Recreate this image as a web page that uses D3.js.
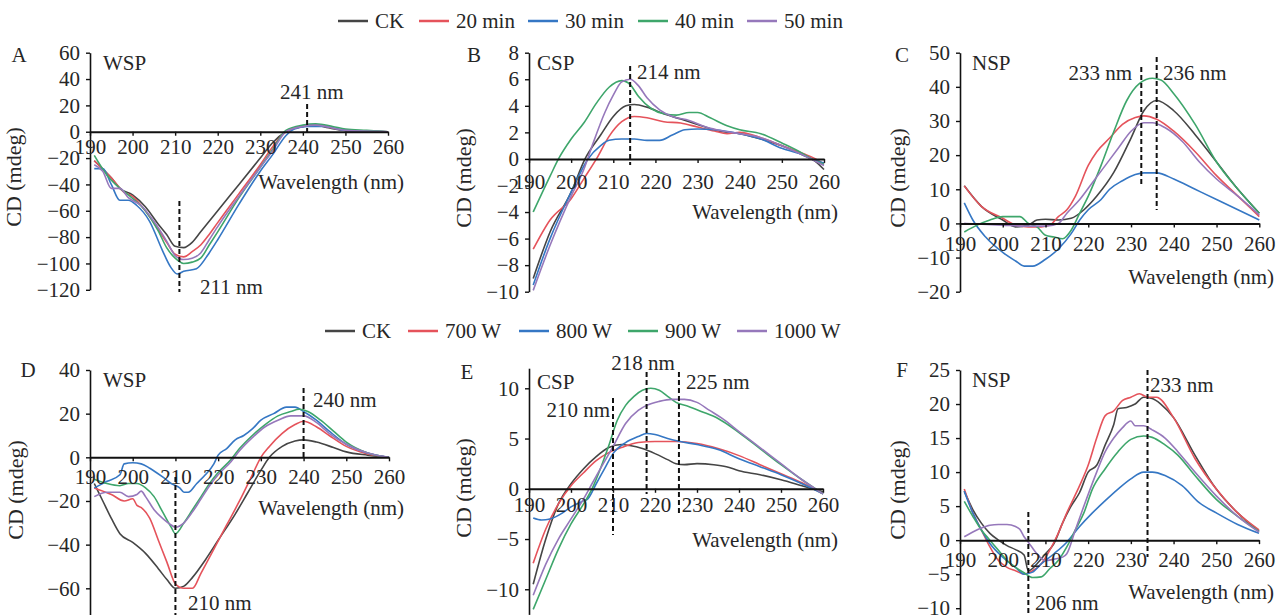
<!DOCTYPE html>
<html><head><meta charset="utf-8">
<script src="https://cdn.jsdelivr.net/npm/d3@7"></script>
<style>
body{margin:0;background:#fff}
svg{display:block}
text{font-family:"Liberation Serif","Times New Roman",serif;fill:#262626}
</style>
</head><body>
<svg id="c" width="1285" height="615"></svg>
<script>
// ---------------- DATA ----------------
const wavelengthTicks = [190,200,210,220,230,240,250,260];
const legendTop = ["CK","20 min","30 min","40 min","50 min"];
const legendBottom = ["CK","700 W","800 W","900 W","1000 W"];
const panelLetters = ["A","B","C","D","E","F"];
const panelTitles = ["WSP","CSP","NSP","WSP","CSP","NSP"];

// Panel A – WSP (time)
const aCK = [[191,-22],[195,-35],[197,-43],[200,-48],[203,-57],[206,-70],[208,-78],[210,-87],[212,-88],[214,-84],[216,-76],[220,-60],[225,-40],[230,-20],[233,-8],[236,0],[240,4],[243,5],[246,3],[250,1],[255,0.5],[260,0]];
const a20 = [[191,-22],[195,-35],[198,-46],[200,-49],[203,-60],[206,-74],[208,-84],[210,-93],[212,-95],[214,-91],[216,-86],[218,-78],[220,-69],[225,-47],[230,-25],[233,-11],[236,0],[240,4],[243,5],[250,1],[260,0]];
const a30 = [[191,-28],[193,-28],[195,-40],[197,-52],[199,-52],[201,-56],[204,-68],[207,-90],[209,-103],[210.5,-108],[212,-106],[215,-104],[218,-92],[220,-82],[225,-55],[230,-30],[233,-17],[236,-3],[238,2],[241,4],[245,4],[250,1],[260,0]];
const a40 = [[191,-18],[194,-33],[196,-40],[199,-48],[203,-60],[206,-75],[208,-88],[210,-96],[212,-100],[214,-99],[216,-96],[218,-86],[220,-76],[225,-50],[230,-27],[233,-13],[236,1],[240,5],[243,6],[247,4],[250,2],[255,1],[260,0]];
const a50 = [[191,-25],[193,-30],[195,-43],[197,-43],[199,-50],[202,-56],[205,-68],[208,-83],[210,-94],[212,-97],[214,-96],[216,-92],[218,-82],[220,-72],[225,-49],[230,-27],[233,-14],[236,0],[240,4],[243,5],[250,1],[260,0]];

// Panel B – CSP (time)
const bCK = [[191,-9],[195,-5.5],[200,-2.5],[203.3,0],[207,1.8],[210,3.2],[213,4.0],[215,4.1],[218,3.9],[222,3.4],[226,3.0],[230,2.6],[235,2.1],[240,1.9],[245,1.5],[250,1.0],[255,0.3],[258,-0.2],[260,-0.8]];
const b20 = [[191,-6.8],[195,-4.6],[200,-3.0],[203,-1.5],[206,0],[209,1.7],[212,2.8],[215,3.2],[218,3.1],[222,2.8],[226,2.7],[230,2.4],[234,2.1],[237,1.9],[240,2.0],[245,1.6],[250,1.0],[255,0.4],[258,0],[260,-0.4]];
const b30 = [[191,-9.5],[195,-6],[200,-2.5],[204,0],[207,1.0],[209,1.4],[212,1.5],[215,1.5],[218,1.4],[221,1.4],[224,1.8],[227,2.2],[230,2.25],[234,2.2],[240,1.9],[245,1.5],[250,0.8],[255,0.3],[258,-0.1],[260,-0.3]];
const b40 = [[191,-4.0],[195,-1.3],[197,0],[200,1.5],[203,2.7],[206,4.2],[209,5.4],[212,5.9],[214,5.6],[216,4.7],[219,3.8],[222,3.4],[225,3.3],[228,3.5],[230,3.5],[233,3.1],[237,2.5],[240,2.2],[245,1.9],[250,1.2],[255,0.4],[257,0],[260,-0.4]];
const b50 = [[191,-9.9],[195,-6.5],[200,-2.8],[203,-0.8],[205,1],[208,3.5],[210,4.8],[212,5.8],[214,6.0],[216,5.5],[218,4.6],[221,3.7],[224,3.2],[228,2.9],[232,2.4],[236,2.1],[240,1.9],[245,1.6],[250,1.0],[255,0.3],[260,-0.5]];

// Panel C – NSP (time)
const cCK = [[191,11],[195,5],[200,1],[203,-1],[206,-0.5],[208,1],[210,1.2],[213,1.0],[216,1.5],[219,4],[222,8],[226,15],[230,25],[233,33],[236,36],[240,33],[245,26],[250,18],[255,10],[260,3]];
const c20 = [[191,11],[195,5],[200,1.5],[203,-0.5],[206,-1],[209,-1],[211,-0.5],[213,2],[215,4],[217,8],[220,17],[222,21],[225,25],[228,29],[231,31],[233,31.5],[236,30.5],[240,27],[245,21],[250,14],[255,8],[260,2]];
const c30 = [[191,6],[193,1],[196,-4],[200,-8.5],[203,-11],[205,-12.5],[207,-12.5],[210,-10.5],[213,-7.5],[216,-3],[218,1],[220,4],[223,7],[225,10],[228,12.5],[231,14.3],[233,14.8],[236,14.8],[240,13],[245,10],[250,7],[255,4],[260,1]];
const c40 = [[191,-2.5],[194,-0.5],[197,1],[200,2],[204,2],[206,0],[208,-1],[210,-3.5],[212,-4],[214,-4.5],[216,-2],[218,3],[220,8],[223,17],[226,27],[229,36],[232,41],[235,42.5],[237,42],[240,38],[245,29],[250,18],[255,10],[260,3]];
const c50 = [[191,0],[200,-0.5],[205,-0.8],[210,-0.8],[213,0],[215,3],[218,7],[221,12],[224,17],[227,22],[230,27],[233,29.5],[235,29.5],[238,28],[242,24],[246,18],[250,13],[255,8],[260,2.5]];

// Panel D – WSP (power)
const dCK = [[191,-12],[193,-20],[195,-28],[197,-35],[200,-39],[203,-44],[206,-51],[208,-56],[210,-60],[212,-59],[214,-55],[217,-47],[220,-38],[224,-26],[227,-16],[230,-6],[232,0],[235,5],[238,7.5],[240,8],[243,7],[247,4.5],[250,2.5],[255,1],[260,0]];
const d700 = [[191,-14],[195,-17],[198,-20],[200,-19],[201,-22],[202,-23],[204,-28],[206,-38],[208,-48],[210,-58],[212,-60],[214,-60],[216,-53],[219,-42],[222,-31],[225,-20],[228,-8],[230,0],[232,5],[235,11],[238,15],[240,16.5],[243,14],[246,10],[250,5],[255,1.5],[260,0]];
const d800 = [[191,-14],[194,-11],[197,-8],[198,-3],[200,-2.5],[202,-3],[204,-5],[207,-9],[209,-12],[211,-14],[212,-16],[213,-16],[215,-12],[217,-8],[219,-3],[220,1],[222,4],[224,8],[226,10],[228,13],[230,17],[233,20],[236,23],[238,23],[240,21],[243,17],[246,12],[250,6],[255,2],[260,0]];
const d900 = [[191,-10],[194,-12],[197,-13],[199,-12],[201,-12],[203,-14],[205,-18],[207,-25],[209,-32],[210,-35],[212,-30],[214,-24],[216,-18],[218,-12],[220,-7],[223,-1],[225,4],[228,10],[231,15],[234,19],[237,21],[239,22],[241,21],[244,17],[247,12],[250,7],[255,2],[260,0]];
const d1000 = [[191,-18],[194,-16],[197,-16],[199,-18],[201,-17],[202,-15.5],[203,-18],[205,-24],[207,-28],[209,-31],[210,-32],[212,-30],[214,-25],[216,-19],[218,-13],[220,-8],[223,-2],[225,3],[228,9],[231,14],[234,17],[237,19],[240,19],[243,16],[246,11],[250,6],[255,2],[260,0]];

// Panel E – CSP (power)
const eCK = [[191,-9.5],[194,-5],[197,-1.5],[200,0.5],[203,2],[206,3.2],[209,4.1],[212,4.4],[214,4.3],[217,4],[220,3.5],[223,2.9],[225,2.5],[227,2.4],[230,2.5],[234,2.4],[237,2.2],[240,1.8],[245,1.4],[250,0.9],[255,0.3],[260,-0.3]];
const e700 = [[191,-7.4],[194,-4],[197,-1.5],[200,0.3],[203,1.6],[206,2.8],[209,3.6],[212,4.1],[216,4.6],[220,4.7],[225,4.7],[230,4.5],[235,4.0],[240,3.3],[245,2.4],[250,1.5],[255,0.6],[260,-0.5]];
const e800 = [[191,-2.9],[193,-3.1],[195,-3.0],[198,-2.4],[200,-1.8],[203,-1.2],[204,-1.0],[206,0.5],[208,2],[210,3.5],[213,4.6],[216,5.2],[218,5.5],[220,5.4],[223,5.0],[226,4.7],[230,4.4],[235,3.9],[240,3.0],[245,2.2],[250,1.4],[255,0.5],[260,-0.5]];
const e900 = [[191,-12],[194,-9],[197,-6],[200,-3.5],[203,-1.5],[205,0],[207,2],[209,4.3],[211,6.8],[213,8.3],[215,9.2],[217,9.8],[219,10],[221,9.8],[223,9.2],[225,8.6],[228,8.2],[231,7.7],[235,7.0],[240,5.6],[245,4.0],[250,2.4],[255,0.9],[260,-0.5]];
const e1000 = [[191,-10.6],[194,-7.5],[197,-5],[200,-3],[203,-1],[205,0.5],[207,2],[210,4.2],[213,6.5],[216,7.8],[218,8.3],[221,8.7],[224,8.9],[227,8.9],[230,8.6],[233,7.8],[236,7.0],[240,5.7],[245,4.1],[250,2.5],[255,0.9],[260,-0.5]];

// Panel F – NSP (power)
const fCK = [[191,7.2],[193,4.5],[195,2.5],[197,1],[199,0],[201,-0.8],[203,-1.4],[205,-2.2],[206,-4.5],[208,-3.5],[210,-2],[212,-0.5],[214,2.5],[216,5],[218,7],[220,10],[222,11],[224,14],[226,17],[227,19.3],[229,19.5],[231,20],[233,21],[235,20.8],[237,20],[240,18],[245,12.5],[250,7.5],[255,4],[260,1.3]];
const f700 = [[191,7.5],[193,4],[195,1.5],[197,-1],[199,-3],[201,-4],[203,-4.5],[205,-5],[207,-4.5],[209,-3.5],[211,-1.5],[213,1],[215,4],[218,8],[220,11],[222,15],[224,18.3],[226,19],[228,20.5],[230,21],[232,21.5],[234,21],[236,21],[240,18],[245,12],[250,7.5],[255,4],[260,1.5]];
const f800 = [[191,7.2],[193,4],[195,1.5],[197,-0.5],[200,-2.5],[203,-4],[205,-5],[207,-4.7],[209,-3.5],[212,-2],[215,-0.3],[218,2],[221,4],[224,5.8],[227,7.5],[230,9],[233,10],[235,10],[238,9.5],[242,8],[246,5.5],[250,4],[255,2.3],[260,1]];
const f900 = [[191,5.7],[193,3.5],[195,1.5],[197,0],[199,-1.5],[201,-3],[203,-4],[205,-4.8],[207,-5.5],[209,-5.4],[211,-4.2],[213,-3],[215,-1],[217,1.5],[219,4],[221,7.5],[224,10.5],[227,13],[230,14.8],[233,15.3],[235,15.1],[238,14],[241,12.5],[245,9.5],[250,6],[255,3.5],[260,1.3]];
const f1000 = [[191,0.5],[193,1.2],[195,1.8],[197,2.2],[199,2.3],[201,2.3],[203,2],[204,1.6],[205,0.5],[206,-0.3],[208,-2],[210,-3],[212,-2.8],[214,-2.5],[215,-2],[217,1.5],[219,5],[222,10],[224,13],[226,15],[228,16.5],[230,17.5],[231,16.8],[233,16.8],[235,16.2],[238,15],[241,13],[245,10],[250,6.5],[255,3.5],[260,1.2]];

// marker wavelengths (dashed lines) and their labels
const marksA = [211, 241];
const marksB = [214];
const marksC = [233, 236];
const marksD = [210, 240];
const marksE = [210, 218, 225];
const marksF = [206, 233];

// ---------------- LAYOUT ----------------
const colors = ["#454545","#e5535b","#3577c4","#3ea66b","#9678bb"];
const svg = d3.select("#c");
const FS = 21;

const panels = [
 {series:[aCK,a20,a30,a40,a50], marks:marksA, x0:90, x1:388, dom:[-120,60], rng:[289.8,52.7], yTicks:d3.range(-120,61,20), lblOff:15.6,
  letter:[19,55], title:[103,63], ylab:[13,177], wl:[404,182],
  marksPos:[{y1:201,y2:292,tx:200,ty:287,anchor:"start"},{y1:104,y2:132,tx:280,ty:92,anchor:"start"}]},
 {series:[bCK,b20,b30,b40,b50], marks:marksB, x0:529, x1:824, dom:[-10,8], rng:[291.7,52.7], yTicks:d3.range(-10,9,2), lblOff:23,
  letter:[474,55], title:[537,63], ylab:[463,178], wl:[838,212],
  marksPos:[{y1:66,y2:165,tx:637,ty:72,anchor:"start"}]},
 {series:[cCK,c20,c30,c40,c50], marks:marksC, x0:960, x1:1259.3, dom:[-20,50], rng:[291.7,52.7], yTicks:d3.range(-20,51,10), lblOff:21,
  letter:[902,55], title:[972,63], ylab:[897,178], wl:[1274,277],
  marksPos:[{y1:67,y2:184,tx:1132,ty:73,anchor:"end"},{y1:57,y2:210,tx:1163,ty:73,anchor:"start"}]},
 {series:[dCK,d700,d800,d900,d1000], marks:marksD, x0:90, x1:389, dom:[-72,40], rng:[614.5,370], yTicks:d3.range(-60,41,20), lblOff:20,
  letter:[28,370], title:[103,380], ylab:[15,490], wl:[404,508],
  marksPos:[{y1:477,y2:615,tx:188,ty:603,anchor:"start"},{y1:388,y2:458,tx:313,ty:400,anchor:"start"}]},
 {series:[eCK,e700,e800,e900,e1000], marks:marksE, x0:529, x1:823, dom:[-12.5,12], rng:[614.4,368.2], yTicks:d3.range(-10,11,5), lblOff:16.5,
  letter:[467,372], title:[537,382], ylab:[463,488], wl:[838,540],
  marksPos:[{y1:398,y2:535,tx:610,ty:410,anchor:"end"},{y1:372,y2:494,tx:643,ty:363,anchor:"middle"},{y1:372,y2:513,tx:686,ty:382,anchor:"start"}]},
 {series:[fCK,f700,f800,f900,f1000], marks:marksF, x0:960, x1:1259, dom:[-11,25], rng:[615,370], yTicks:d3.range(-10,26,5), lblOff:19.5,
  letter:[902,370], title:[972,380], ylab:[897,490], wl:[1274,592],
  marksPos:[{y1:512,y2:615,tx:1035,ty:603,anchor:"start"},{y1:370,y2:557,tx:1150,ty:385,anchor:"start"}]}
];
// fine positions of dashed lines (reference draws some slightly off the nominal value)
const markShift = [[0,0],[0],[-0.6,0],[0,0],[0,0,0.7],[0,0.9]];

panels.forEach((p,pi)=>{
  const g = svg.append("g");
  const x = d3.scaleLinear().domain([190,260]).range([p.x0,p.x1]);
  const y = d3.scaleLinear().domain(p.dom).range(p.rng);
  const y0 = y(0);

  // y axis
  const ya = g.append("g").attr("transform",`translate(${p.x0},0)`)
    .call(d3.axisLeft(y).tickValues(p.yTicks).tickSize(4).tickSizeOuter(0).tickPadding(6).tickFormat(d3.format("d")));
  ya.select(".domain").attr("stroke","#111").attr("stroke-width",1.6);
  ya.selectAll(".tick line").attr("stroke","#111").attr("stroke-width",1.4);
  ya.selectAll("text").attr("font-size",FS).attr("font-family",'"Liberation Serif",serif').attr("fill","#262626");

  // series
  const line = d3.line().x(d=>x(d[0])).y(d=>y(d[1])).curve(d3.curveMonotoneX);
  p.series.forEach((s,si)=>{
    g.append("path").datum(s).attr("d",line).attr("fill","none")
      .attr("stroke",colors[si]).attr("stroke-width",1.6).attr("stroke-linejoin","round");
  });

  // x axis at zero
  const xa = g.append("g").attr("transform",`translate(0,${y0})`)
    .call(d3.axisBottom(x).tickValues(wavelengthTicks).tickSize(4).tickSizeOuter(0).tickFormat(d3.format("d")));
  xa.select(".domain").attr("stroke","#111").attr("stroke-width",2);
  xa.selectAll(".tick line").attr("stroke","#111").attr("stroke-width",1.4);
  xa.selectAll("text").attr("font-size",FS).attr("font-family",'"Liberation Serif",serif').attr("fill","#262626")
    .attr("y",p.lblOff+7).attr("dy",0);

  // dashed marker lines
  p.marks.forEach((m,mi)=>{
    const mp = p.marksPos[mi];
    const xm = x(m + markShift[pi][mi]);
    g.append("line").attr("x1",xm).attr("x2",xm).attr("y1",mp.y1).attr("y2",mp.y2)
      .attr("stroke","#111").attr("stroke-width",2).attr("stroke-dasharray","5,3");
    g.append("text").attr("x",mp.tx).attr("y",mp.ty).attr("dominant-baseline","central")
      .attr("text-anchor",mp.anchor).attr("font-size",FS).text(m+" nm");
  });

  // labels
  g.append("text").attr("x",p.letter[0]).attr("y",p.letter[1]).attr("dominant-baseline","central")
    .attr("text-anchor","middle").attr("font-size",FS).text(panelLetters[pi]);
  g.append("text").attr("x",p.title[0]).attr("y",p.title[1]).attr("dominant-baseline","central")
    .attr("font-size",FS).text(panelTitles[pi]);
  g.append("text").attr("transform",`translate(${p.ylab[0]},${p.ylab[1]}) rotate(-90)`)
    .attr("text-anchor","middle").attr("dominant-baseline","central").attr("font-size",22).text("CD (mdeg)");
  g.append("text").attr("x",p.wl[0]).attr("y",p.wl[1]).attr("text-anchor","end")
    .attr("dominant-baseline","central").attr("font-size",FS).text("Wavelength (nm)");
});

// legends
function legend(names, lineX, cy){
  const lg = svg.append("g");
  names.forEach((n,i)=>{
    lg.append("line").attr("x1",lineX[i]).attr("x2",lineX[i]+30).attr("y1",cy).attr("y2",cy)
      .attr("stroke",colors[i]).attr("stroke-width",2.5);
    lg.append("text").attr("x",lineX[i]+37).attr("y",cy).attr("dominant-baseline","central")
      .attr("font-size",FS).text(n);
  });
}
legend(legendTop,[338,419,528,638,747],21);
legend(legendBottom,[325,408,519,628,737],331);
</script>
</body></html>
